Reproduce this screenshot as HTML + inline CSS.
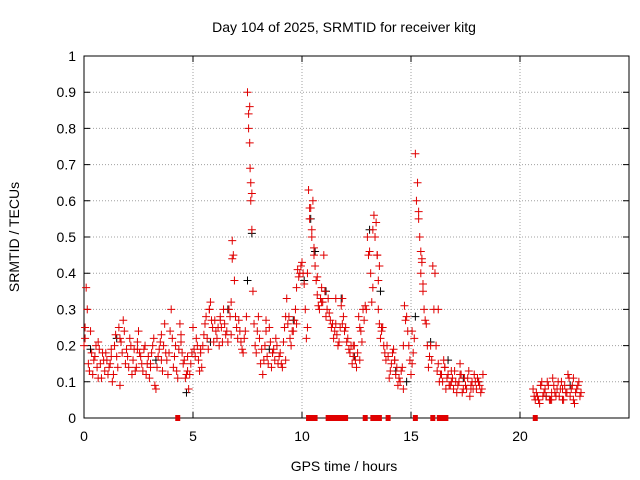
<!DOCTYPE html>
<html><head><meta charset="utf-8"><style>
body{margin:0;background:#fff}
svg{display:block;font-family:"Liberation Sans",sans-serif}
</style></head><body>
<svg id="chart" width="640" height="480">
<rect x="0" y="0" width="640" height="480" fill="#fff"/>
<g id="grid"></g>
<g id="axes"></g>
<g id="marks"></g>
<text x="344" y="32" text-anchor="middle" font-size="14">Day 104 of 2025, SRMTID for receiver kitg</text>
<text x="344" y="471" text-anchor="middle" font-size="14">GPS time / hours</text>
<text transform="translate(19,237) rotate(-90)" text-anchor="middle" font-size="14">SRMTID / TECUs</text>
</svg>
<script>
const xTicks=[0,5,10,15,20];
const yTicks=[0,0.1,0.2,0.3,0.4,0.5,0.6,0.7,0.8,0.9,1];
const yTickLabels=["0","0.1","0.2","0.3","0.4","0.5","0.6","0.7","0.8","0.9","1"];
const redTimes=[0,0.1,0.2,0.3,0.4,0.5,0.6,0.7,0.8,0.9,1,1.1,1.2,1.3,1.4,1.5,1.6,1.7,1.8,1.9,2,2.1,2.2,2.3,2.4,2.5,2.6,2.7,2.8,2.9,3,3.1,3.2,3.3,3.4,3.5,3.6,3.7,3.8,3.9,4,4.1,4.2,4.3,4.4,4.5,4.6,4.7,4.8,4.9,5,5.1,5.2,5.3,5.4,5.5,5.6,5.7,5.8,5.9,6,6.1,6.2,6.3,6.4,6.5,6.6,6.7,6.8,6.9,7,7.1,7.2,7.3,7.4,7.5,7.6,7.7,7.8,7.9,8,8.1,8.2,8.3,8.4,8.5,8.6,8.7,8.8,8.9,9,9.1,9.2,9.3,9.4,9.5,9.6,9.7,9.8,9.9,10,10.1,10.2,10.3,10.4,10.5,10.6,10.7,10.8,10.9,11,11.1,11.2,11.3,11.4,11.5,11.6,11.7,11.8,11.9,12,12.1,12.2,12.3,12.4,12.5,12.6,12.7,12.8,12.9,13,13.1,13.2,13.3,13.4,13.5,13.6,13.7,13.8,13.9,14,14.1,14.2,14.3,14.4,14.5,14.6,14.7,14.8,14.9,15,15.1,15.2,15.3,15.4,15.5,15.6,15.7,15.8,15.9,16,16.1,16.2,16.3,16.4,16.5,16.6,16.7,16.8,16.9,17,17.1,17.2,17.3,17.4,17.5,17.6,17.7,17.8,17.9,18,18.1,18.2,18.3,20.6,20.7,20.8,20.9,21,21.1,21.2,21.3,21.4,21.5,21.6,21.7,21.8,21.9,22,22.1,22.2,22.3,22.4,22.5,22.6,22.7,22.8];
const redValues=[.20,.36,.15,.24,.12,.17,.14,.19,.11,.16,.18,.12,.15,.10,.20,.17,.25,.21,.27,.15,.17,.22,.12,.19,.14,.24,.17,.13,.20,.15,.11,.18,.22,.08,.17,.21,.13,.26,.16,.18,.30,.14,.20,.11,.26,.18,.16,.12,.08,.15,.25,.17,.20,.13,.14,.23,.28,.19,.32,.25,.27,.22,.20,.25,.30,.23,.21,.28,.49,.38,.25,.27,.21,.18,.24,.90,.86,.52,.26,.18,.28,.15,.12,.20,.17,.25,.14,.19,.22,.15,.18,.14,.25,.33,.28,.20,.24,.30,.41,.40,.43,.37,.22,.63,.58,.60,.42,.34,.30,.36,.45,.28,.33,.27,.26,.24,.23,.21,.31,.28,.25,.22,.18,.15,.20,.14,.28,.24,.30,.31,.50,.46,.32,.56,.54,.30,.22,.25,.18,.20,.11,.15,.19,.12,.09,.10,.14,.31,.28,.20,.12,.18,.73,.65,.50,.44,.30,.26,.14,.20,.42,.40,.13,.10,.12,.16,.08,.12,.09,.11,.13,.07,.10,.12,.08,.09,.11,.06,.10,.12,.08,.10,.07,.12,.08,.05,.06,.04,.10,.07,.06,.09,.05,.11,.07,.08,.06,.10,.05,.07,.12,.06,.09,.04,.08,.10,.07];
const redTimes2=[0.05,0.15,0.25,0.35,0.45,0.55,0.65,0.75,0.85,0.95,1.05,1.15,1.25,1.35,1.45,1.55,1.65,1.75,1.85,1.95,2.05,2.15,2.25,2.35,2.45,2.55,2.65,2.75,2.85,2.95,3.05,3.15,3.25,3.35,3.45,3.55,3.65,3.75,3.85,3.95,4.05,4.15,4.25,4.35,4.45,4.55,4.65,4.75,4.85,4.95,5.05,5.15,5.25,5.35,5.45,5.55,5.65,5.75,5.85,5.95,6.05,6.15,6.25,6.35,6.45,6.55,6.65,6.75,6.85,6.95,7.05,7.15,7.25,7.35,7.45,7.55,7.65,7.75,7.85,7.95,8.05,8.15,8.25,8.35,8.45,8.55,8.65,8.75,8.85,8.95,9.05,9.15,9.25,9.35,9.45,9.55,9.65,9.75,9.85,9.95,10.05,10.15,10.25,10.35,10.45,10.55,10.65,10.75,10.85,10.95,11.05,11.15,11.25,11.35,11.45,11.55,11.65,11.75,11.85,11.95,12.05,12.15,12.25,12.35,12.45,12.55,12.65,12.75,12.85,12.95,13.05,13.15,13.25,13.35,13.45,13.55,13.65,13.75,13.85,13.95,14.05,14.15,14.25,14.35,14.45,14.55,14.65,14.75,14.85,14.95,15.05,15.15,15.25,15.35,15.45,15.55,15.65,15.75,15.85,15.95,16.05,16.15,16.25,16.35,16.45,16.55,16.65,16.75,16.85,16.95,17.05,17.15,17.25,17.35,17.45,17.55,17.65,17.75,17.85,17.95,18.05,18.15,18.25,20.65,20.75,20.85,20.95,21.05,21.15,21.25,21.35,21.45,21.55,21.65,21.75,21.85,21.95,22.05,22.15,22.25,22.35,22.45,22.55,22.65,22.75];
const redValues2=[.22,.30,.13,.18,.16,.20,.11,.15,.18,.13,.16,.14,.19,.12,.23,.14,.22,.18,.24,.19,.14,.20,.16,.13,.21,.18,.15,.19,.12,.17,.15,.20,.09,.14,.19,.16,.20,.18,.12,.24,.22,.17,.13,.19,.23,.15,.11,.17,.12,.18,.19,.22,.16,.18,.20,.26,.22,.30,.27,.21,.24,.25,.27,.21,.26,.24,.30,.23,.45,.28,.22,.24,.19,.22,.28,.80,.65,.35,.20,.24,.22,.19,.16,.24,.15,.21,.18,.16,.20,.17,.15,.21,.28,.26,.22,.24,.27,.36,.39,.42,.40,.30,.25,.58,.50,.45,.38,.31,.33,.32,.35,.30,.29,.25,.22,.26,.20,.25,.33,.24,.21,.19,.20,.17,.16,.18,.25,.21,.27,.30,.45,.40,.36,.50,.45,.26,.24,.20,.16,.17,.13,.18,.16,.14,.11,.13,.20,.27,.24,.16,.15,.22,.60,.55,.40,.35,.27,.20,.17,.16,.30,.20,.15,.12,.10,.14,.11,.09,.13,.08,.10,.09,.12,.07,.11,.08,.13,.09,.08,.10,.11,.09,.08,.06,.07,.05,.09,.06,.08,.10,.05,.07,.09,.06,.10,.08,.05,.09,.07,.11,.08,.05,.07,.09,.06];
const redExtraTimes=[0.05,0.25,0.65,1.25,1.65,2.45,3.05,3.55,4.45,4.75,5.35,5.75,6.25,6.75,6.8,7.55,7.6,7.62,7.65,7.7,8.35,8.65,9.25,9.75,10.25,10.35,10.45,10.55,10.7,10.9,11.55,11.85,12.35,12.65,13.25,13.45,13.5,13.55,13.65,14.25,14.65,15.05,15.35,15.45,15.5,15.55,16.25,16.55,16.85,17.25,17.75,20.95,21.45,21.95,22.45];
const redExtraValues=[.25,.13,.21,.17,.09,.19,.14,.23,.21,.13,.19,.30,.28,.32,.44,.84,.76,.69,.60,.62,.27,.18,.16,.26,.40,.55,.52,.47,.39,.32,.33,.26,.20,.16,.52,.45,.38,.42,.25,.16,.08,.24,.57,.46,.43,.37,.30,.14,.10,.15,.08,.09,.05,.08,.11];
const blackTimes=[0.3,1.5,3.3,4.7,5.8,6.6,7.5,7.7,8.5,9.6,10.1,10.4,10.6,11.1,11.8,12.4,13.1,13.6,14.3,14.8,15.2,15.9,16.7,17.4,18.1,21.2,22.3];
const blackValues=[.19,.22,.16,.07,.21,.30,.38,.51,.19,.27,.38,.55,.46,.35,.33,.17,.52,.35,.13,.10,.28,.21,.16,.11,.10,.06,.09];
const zeroTimes=[4.3,10.3,10.4,10.5,10.6,11.2,11.35,11.5,11.65,11.8,12.0,12.9,13.25,13.4,13.55,13.95,15.2,16.0,16.3,16.45,16.6,20.7];
const X0=84,X1=629,Y0=418,Y1=56,XMAX=25;
const sx=t=>X0+t/XMAX*(X1-X0);
const sy=v=>Y0-v*(Y0-Y1);
const NS="http://www.w3.org/2000/svg";
function mk(tag,attrs,parent){const e=document.createElementNS(NS,tag);for(const k in attrs)e.setAttribute(k,attrs[k]);parent.appendChild(e);return e;}
const grid=document.getElementById('grid'),axes=document.getElementById('axes'),marks=document.getElementById('marks');
yTicks.forEach((v,i)=>{
  const y=sy(v);
  if(i>0&&i<yTicks.length-1){const g=mk('line',{x1:X0,x2:X1,y1:y,y2:y,stroke:'#a0a0a0','stroke-dasharray':'1,2'},grid);
  
  }
  const tk=mk('path',{d:`M${X0},${y}h6M${X1},${y}h-6`,stroke:'#000'},axes);
  
  
  const tl=mk('text',{x:X0-8,y:y+5,'text-anchor':'end','font-size':14},axes);tl.textContent=yTickLabels[i];
  
  
});
xTicks.forEach(t=>{
  const x=sx(t);
  if(t>0){const g=mk('line',{x1:x,x2:x,y1:Y0,y2:Y1,stroke:'#a0a0a0','stroke-dasharray':'1,2'},grid);
  
  }
  const tk=mk('path',{d:`M${x},${Y0}v-6M${x},${Y1}v6`,stroke:'#000'},axes);
  
  
  const tl=mk('text',{x:x,y:Y0+23,'text-anchor':'middle','font-size':14},axes);tl.textContent=String(t);
  
  
});
const frame=mk('rect',{x:X0,y:Y1,width:X1-X0,height:Y0-Y1,fill:'none',stroke:'#000'},axes);


function cross(t,v,color,name){
  const x=sx(t),y=sy(v);
  const p=mk('path',{d:`M${x-4},${y}h8M${x},${y-4}v8`,stroke:color,'stroke-width':1},marks);
  
  
}
blackTimes.forEach((t,i)=>cross(t,blackValues[i],'#000','black-point'));
redTimes.forEach((t,i)=>cross(t,redValues[i],'#e00000','red-point'));
redTimes2.forEach((t,i)=>cross(t,redValues2[i],'#e00000','red-point'));
redExtraTimes.forEach((t,i)=>cross(t,redExtraValues[i],'#e00000','red-point'));
zeroTimes.forEach(t=>{
  const r=mk('rect',{x:sx(t)-2.5,y:Y0-3,width:5,height:6,fill:'#e00000'},marks);
  
  
});
</script>
</body></html>
